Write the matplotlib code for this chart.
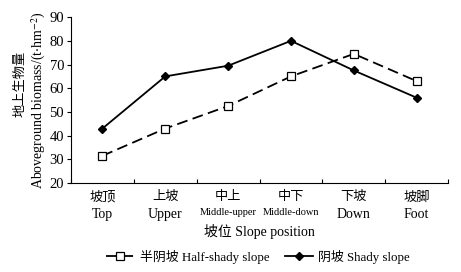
import matplotlib
matplotlib.use("Agg")
import matplotlib.pyplot as plt
import matplotlib.transforms as mtransforms

plt.rcParams['font.family'] = ['Liberation Serif', 'Noto Sans CJK SC']
plt.rcParams['mathtext.fontset'] = 'stix'

positions_cn = ['坡顶', '上坡', '中上', '中下', '下坡', '坡脚']
positions_en = ['Top', 'Upper', 'Middle-upper', 'Middle-down', 'Down', 'Foot']
half_shady = [31.5, 43.0, 52.5, 65.0, 74.5, 63.0]
shady = [43.0, 65.0, 69.5, 80.0, 67.5, 56.0]

fig = plt.figure(figsize=(4.61, 2.72), dpi=100)
ax = fig.add_axes([0.154, 0.327, 0.818, 0.61])

x = list(range(1, len(positions_cn) + 1))
ax.plot(x, half_shady, color='black', linestyle=(0, (6, 3)), linewidth=1.3,
        marker='s', markersize=5.5, markerfacecolor='white',
        markeredgecolor='black', markeredgewidth=0.9,
        label='半阴坡 Half-shady slope')
ax.plot(x, shady, color='black', linestyle='-', linewidth=1.3,
        marker='D', markersize=4.5, markerfacecolor='black',
        label='阴坡 Shady slope')

ax.set_xlim(0.5, 6.5)
ax.set_ylim(20, 90)
ax.set_yticks(range(20, 91, 10))
ax.set_xticks([i + 0.5 for i in range(0, 7)])
ax.set_xticklabels([])
ax.tick_params(axis='x', direction='in', length=3, width=0.8)
ax.tick_params(axis='y', direction='out', length=3, width=0.8, labelsize=10.5, pad=2)
for s in ['top', 'right']:
    ax.spines[s].set_visible(False)
for s in ['left', 'bottom']:
    ax.spines[s].set_linewidth(0.8)

trans = mtransforms.blended_transform_factory(ax.transData, ax.transAxes)
for xi, cn, en in zip(x, positions_cn, positions_en):
    ax.text(xi, -0.05, cn, transform=trans, ha='center', va='top', fontsize=9.5)
    fs = 7.5 if en.startswith('Middle') else 10
    ax.text(xi, -0.15, en, transform=trans, ha='center', va='top', fontsize=fs)

ax.set_xlabel('坡位 Slope position', fontsize=10, labelpad=26)

# y label: two lines placed separately (Chinese line sits higher in the original)
ax.text(-0.135, 0.6, '地上生物量', transform=ax.transAxes, rotation=90,
        ha='center', va='center', fontsize=9.5)
ax.text(-0.086, 0.5, 'Aboveground biomass/(t$\\cdot$hm$^{-2}$)', transform=ax.transAxes,
        rotation=90, ha='center', va='center', fontsize=10)

fig.legend(loc='lower center', bbox_to_anchor=(0.56, -0.012), ncol=2, frameon=False,
           fontsize=9.3, handlelength=2.2, handletextpad=0.4, columnspacing=1.2)

fig.savefig('out.png', dpi=100)
